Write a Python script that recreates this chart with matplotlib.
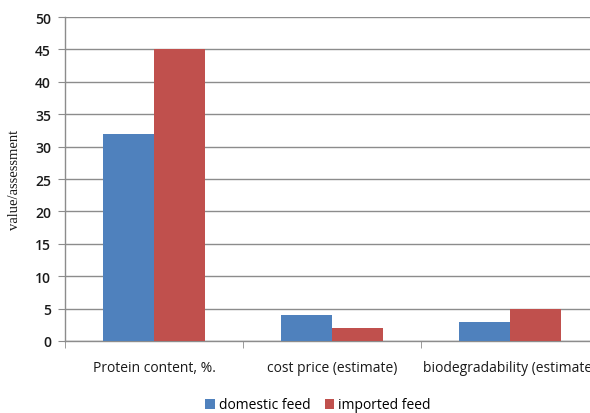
import numpy as np
import matplotlib
matplotlib.use("Agg")
import matplotlib.pyplot as plt

categories = ["Protein content, %.", "cost price (estimate)", "biodegradability (estimate)"]
domestic = [32, 4, 3]
imported = [45, 2, 5]
series_names = ["domestic feed", "imported feed"]
yticks = list(range(0, 51, 5))

BLUE = "#4F81BD"
RED = "#C0504D"
GRID = "#8C8C8C"
TXT = "#1a1a1a"

fig = plt.figure(figsize=(5.9, 4.14), dpi=100)
# axes runs a bit past the right edge of the picture, like the original
ax = fig.add_axes([65 / 590, 72 / 414, 534 / 590, 324 / 414])

x = np.arange(len(categories))
w = 0.287
ax.bar(x - w / 2, domestic, w, color=BLUE, label=series_names[0], zorder=3)
ax.bar(x + w / 2, imported, w, color=RED, label=series_names[1], zorder=3)

ax.set_xlim(-0.5, len(categories) - 0.5)
ax.set_ylim(0, 50)
ax.set_yticks(yticks)
ax.yaxis.grid(True, color=GRID, linewidth=1.0, zorder=0)
ax.set_axisbelow(True)

for s in ["top", "right"]:
    ax.spines[s].set_visible(False)
for s in ["left", "bottom"]:
    ax.spines[s].set_color(GRID)
    ax.spines[s].set_linewidth(1.0)

ax.tick_params(axis="y", length=5, color=GRID, labelsize=10, labelcolor=TXT, pad=5)
ax.set_xticks(x)
ax.set_xticklabels(categories, fontsize=10, color=TXT)
ax.tick_params(axis="x", length=0, pad=14)
# small tick marks between the categories
ax.set_xticks(np.arange(-0.5, len(categories), 1.0), minor=True)
ax.tick_params(axis="x", which="minor", length=5, color=GRID)

for lab in ax.get_yticklabels():
    lab.set_fontfamily("Open Sans")
    lab.set_fontweight("semibold")
for lab in ax.get_xticklabels():
    lab.set_fontfamily("Open Sans")

ax.set_ylabel("value/assessment", family="Liberation Serif", fontsize=10.5, color=TXT, labelpad=10)

fig.legend(loc="center", bbox_to_anchor=(318 / 590, 1 - 406 / 414), ncol=2, frameon=False,
           handlelength=0.7, handleheight=0.7, handletextpad=0.3, columnspacing=1.0,
           prop={"family": "Open Sans", "size": 10})

fig.savefig("out.png", dpi=100)
